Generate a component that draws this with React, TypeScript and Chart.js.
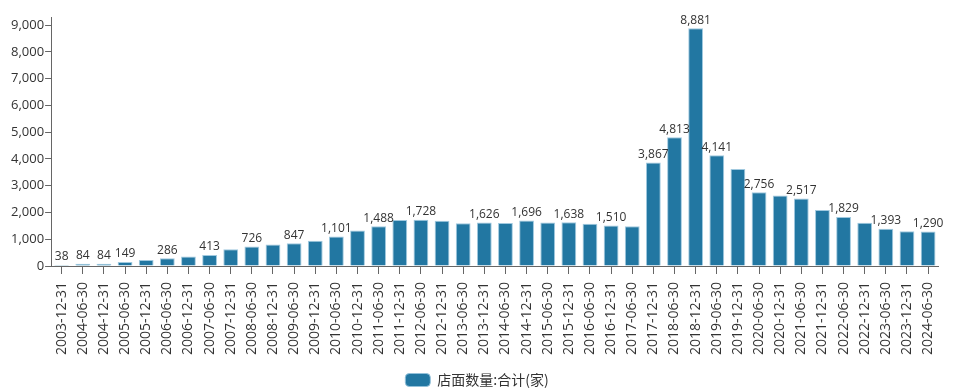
import React, { useEffect, useRef } from "react";
import { Chart, registerables } from "chart.js";

Chart.register(...registerables);

const categories = [
  "2003-12-31", "2004-06-30", "2004-12-31", "2005-06-30", "2005-12-31", "2006-06-30",
  "2006-12-31", "2007-06-30", "2007-12-31", "2008-06-30", "2008-12-31", "2009-06-30",
  "2009-12-31", "2010-06-30", "2010-12-31", "2011-06-30", "2011-12-31", "2012-06-30",
  "2012-12-31", "2013-06-30", "2013-12-31", "2014-06-30", "2014-12-31", "2015-06-30",
  "2015-12-31", "2016-06-30", "2016-12-31", "2017-06-30", "2017-12-31", "2018-06-30",
  "2018-12-31", "2019-06-30", "2019-12-31", "2020-06-30", "2020-12-31", "2021-06-30",
  "2021-12-31", "2022-06-30", "2022-12-31", "2023-06-30", "2023-12-31", "2024-06-30",
];

const storeCounts = [
  38, 84, 84, 149, 220, 286,
  355, 413, 630, 726, 800, 847,
  940, 1101, 1330, 1488, 1715, 1728,
  1690, 1600, 1626, 1610, 1696, 1625,
  1638, 1580, 1510, 1480, 3867, 4813,
  8881, 4141, 3620, 2756, 2630, 2517,
  2090, 1829, 1620, 1393, 1300, 1290,
];

// indices of bars whose value label is shown
const labeledBars = [0, 1, 2, 3, 5, 7, 9, 11, 13, 15, 17, 20, 22, 24, 26, 28, 29, 30, 31, 33, 35, 37, 39, 41];

const seriesName = "店面数量:合计(家)";
const yTicks = [0, 1000, 2000, 3000, 4000, 5000, 6000, 7000, 8000, 9000];

const FONT = "'Open Sans', 'Noto Sans CJK SC', sans-serif";
const CJK = "'Noto Sans CJK SC', 'Open Sans', sans-serif";
const BOTTOM_PAD = -7;

const valueLabelPlugin = {
  id: "valueLabels",
  afterDatasetsDraw(chart: any) {
    const ctx = chart.ctx;
    const meta = chart.getDatasetMeta(0);
    ctx.save();
    ctx.font = `12px ${FONT}`;
    ctx.fillStyle = "#333333";
    ctx.textAlign = "center";
    ctx.textBaseline = "bottom";
    labeledBars.forEach((i) => {
      const el = meta.data[i];
      if (!el) return;
      ctx.fillText(storeCounts[i].toLocaleString("en-US"), el.x, el.y - 2);
    });
    ctx.restore();
  },
};

export default function App() {
  const ref = useRef<HTMLCanvasElement | null>(null);
  useEffect(() => {
    document.body.style.margin = "0";
    if (!ref.current) return;
    const chart = new Chart(ref.current, {
      type: "bar",
      data: {
        labels: categories,
        datasets: [
          {
            label: seriesName,
            data: storeCounts,
            backgroundColor: "#2277a2",
            borderColor: "rgba(150,195,220,0.9)",
            borderWidth: 1,
            barPercentage: 0.7,
            categoryPercentage: 1,
          },
        ],
      },
      options: {
        animation: false,
        responsive: false,
        layout: { padding: { left: 10, right: 9, top: 17, bottom: BOTTOM_PAD } },
        plugins: {
          legend: {
            position: "bottom",
            labels: {
              boxWidth: 25,
              boxHeight: 13,
              useBorderRadius: true,
              borderRadius: 4,
              color: "#333333",
              font: { size: 14, family: CJK },
              padding: 0,
            },
          },
          tooltip: { enabled: false },
        },
        scales: {
          x: {
            offset: true,
            afterFit: (scale: any) => {
              const lh = scale.chart.legend && scale.chart.legend.height ? scale.chart.legend.height : 22;
              scale.height = 390 - BOTTOM_PAD - lh - 266;
            },
            grid: { display: true, drawOnChartArea: false, drawTicks: true, tickLength: 8, color: "#666666", offset: false },
            border: { color: "#666666", width: 1 },
            ticks: {
              autoSkip: false,
              maxRotation: 90,
              minRotation: 90,
              color: "#333333",
              font: { size: 14, family: FONT },
              padding: 8,
            },
          },
          y: {
            min: 0,
            max: 9300,
            afterBuildTicks: (axis: any) => {
              axis.ticks = yTicks.map((v) => ({ value: v }));
            },
            grid: { display: true, drawOnChartArea: false, drawTicks: true, tickLength: 6, color: "#666666" },
            border: { color: "#666666", width: 1 },
            ticks: {
              color: "#333333",
              font: { size: 13, family: FONT },
              padding: 1,
              callback: (v: any) => Number(v).toLocaleString("en-US"),
            },
          },
        },
      },
      plugins: [valueLabelPlugin],
    });
    return () => chart.destroy();
  }, []);
  return (
    <div style={{ width: 953, height: 390 }}>
      <canvas ref={ref} width={953} height={390} style={{ display: "block" }} />
    </div>
  );
}
